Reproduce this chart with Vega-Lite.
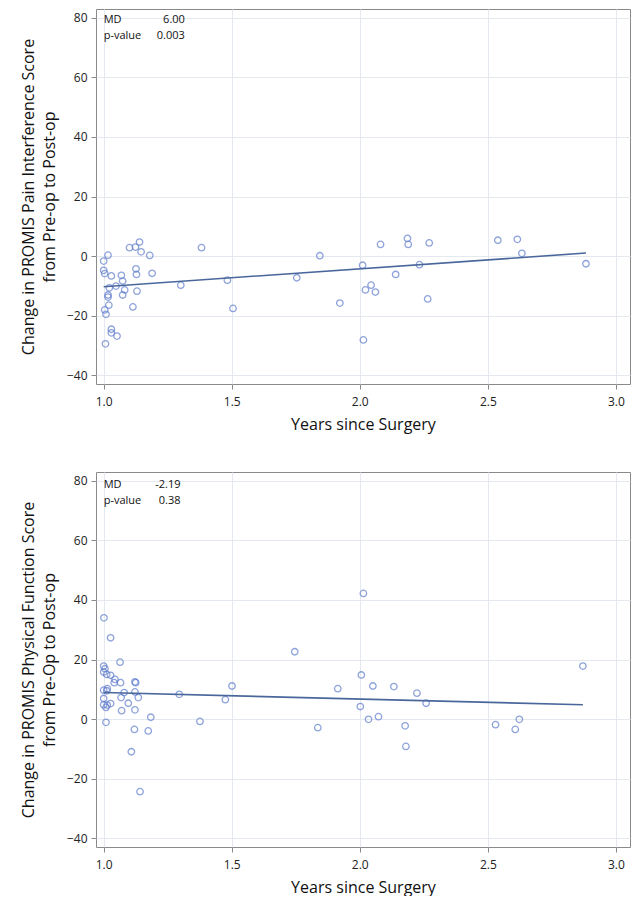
{
  "$schema": "https://vega.github.io/schema/vega-lite/v6.json",
  "padding": {"left": 19, "top": 8, "right": 8, "bottom": 0},
  "background": "white",
  "spacing": 38,
  "config": {
    "font": "Open Sans",
    "view": {"stroke": "#8a8a8a", "strokeWidth": 1},
    "axis": {
      "labelFontSize": 12, "labelColor": "#222", "titleFontSize": 16, "titleFontWeight": "normal",
      "titleColor": "#111", "tickColor": "#8a8a8a", "tickSize": 5, "domain": false,
      "gridColor": "#e4e9ef", "gridWidth": 1, "labelPadding": 4
    }
  },
  "datasets": {
    "pain": [
      {"years":1.140,"change":4.7},{"years":1.101,"change":2.8},{"years":1.124,"change":3.0},{"years":1.146,"change":1.4},
      {"years":1.180,"change":0.2},{"years":1.017,"change":0.3},{"years":1.0,"change":-1.7},{"years":1.0,"change":-4.8},
      {"years":1.004,"change":-5.9},{"years":1.030,"change":-6.7},{"years":1.069,"change":-6.5},{"years":1.126,"change":-4.3},
      {"years":1.128,"change":-6.2},{"years":1.189,"change":-5.8},{"years":1.074,"change":-8.4},{"years":1.048,"change":-10.1},
      {"years":1.022,"change":-10.7},{"years":1.082,"change":-11.4},{"years":1.130,"change":-11.8},{"years":1.017,"change":-13.1},
      {"years":1.017,"change":-13.8},{"years":1.074,"change":-13.1},{"years":1.020,"change":-16.5},{"years":1.114,"change":-17.1},
      {"years":1.004,"change":-18.1},{"years":1.009,"change":-19.6},{"years":1.030,"change":-24.6},{"years":1.030,"change":-25.8},
      {"years":1.052,"change":-26.9},{"years":1.007,"change":-29.5},{"years":1.301,"change":-9.8},{"years":1.382,"change":2.8},
      {"years":1.483,"change":-8.1},{"years":1.505,"change":-17.6},{"years":1.844,"change":0.1},{"years":1.754,"change":-7.3},
      {"years":1.922,"change":-15.8},{"years":2.011,"change":-3.1},{"years":2.022,"change":-11.4},{"years":2.044,"change":-9.8},
      {"years":2.061,"change":-12.1},{"years":2.014,"change":-28.2},{"years":2.081,"change":3.9},{"years":2.140,"change":-6.2},
      {"years":2.186,"change":5.9},{"years":2.189,"change":3.9},{"years":2.233,"change":-2.9},{"years":2.271,"change":4.4},
      {"years":2.265,"change":-14.4},{"years":2.539,"change":5.3},{"years":2.615,"change":5.6},{"years":2.633,"change":0.9},
      {"years":2.883,"change":-2.6}
    ],
    "painFit": [{"years":1.0,"change":-10.3},{"years":2.883,"change":1.0}],
    "painStat": [{"stat":"MD","value":"6.00"},{"stat":"p-value","value":"0.003"}],
    "pf": [
      {"years":1.001,"change":34.0},{"years":1.027,"change":27.3},{"years":1.064,"change":19.1},{"years":1.0,"change":17.8},
      {"years":1.005,"change":16.9},{"years":1.0,"change":15.8},{"years":1.012,"change":15.0},{"years":1.027,"change":14.7},
      {"years":1.044,"change":13.3},{"years":1.041,"change":12.2},{"years":1.066,"change":12.2},{"years":1.122,"change":12.5},
      {"years":1.125,"change":12.2},{"years":1.0,"change":9.7},{"years":1.014,"change":10.2},{"years":1.012,"change":9.5},
      {"years":1.080,"change":8.9},{"years":1.122,"change":9.1},{"years":1.0,"change":6.9},{"years":1.068,"change":7.2},
      {"years":1.135,"change":7.2},{"years":1.096,"change":5.3},{"years":1.0,"change":4.8},{"years":1.014,"change":4.7},
      {"years":1.027,"change":5.2},{"years":1.009,"change":3.9},{"years":1.070,"change":2.8},{"years":1.122,"change":3.1},
      {"years":1.184,"change":0.6},{"years":1.009,"change":-1.1},{"years":1.120,"change":-3.5},{"years":1.174,"change":-4.0},
      {"years":1.108,"change":-11.0},{"years":1.142,"change":-24.4},{"years":1.295,"change":8.3},{"years":1.376,"change":-0.8},
      {"years":1.475,"change":6.5},{"years":1.501,"change":11.1},{"years":2.014,"change":42.2},{"years":1.746,"change":22.6},
      {"years":2.871,"change":17.8},{"years":2.006,"change":14.8},{"years":1.914,"change":10.2},{"years":2.051,"change":11.1},
      {"years":2.133,"change":10.9},{"years":2.223,"change":8.7},{"years":2.259,"change":5.3},{"years":2.002,"change":4.2},
      {"years":1.836,"change":-2.9},{"years":2.034,"change":-0.1},{"years":2.073,"change":0.8},{"years":2.177,"change":-2.3},
      {"years":2.180,"change":-9.2},{"years":2.530,"change":-1.9},{"years":2.607,"change":-3.5},{"years":2.623,"change":-0.1}
    ],
    "pfFit": [{"years":1.0,"change":8.9},{"years":2.871,"change":4.8}],
    "pfStat": [{"stat":"MD","value":"-2.19"},{"stat":"p-value","value":"0.38"}]
  },
  "vconcat": [
    {
      "width": 534, "height": 375,
      "encoding": {
        "x": {"type": "quantitative", "scale": {"domain": [0.97, 3.055], "nice": false, "zero": false},
              "axis": {"values": [1, 1.5, 2, 2.5, 3], "format": ".1f", "title": "Years since Surgery", "labelPadding": 7, "titlePadding": 9}},
        "y": {"type": "quantitative", "scale": {"domain": [-43, 83], "nice": false, "zero": false},
              "axis": {"values": [-40, -20, 0, 20, 40, 60, 80], "title": ["Change in PROMIS Pain Interference Score", "from Pre-op to Post-op"], "titlePadding": 9, "titleLineHeight": 21}}
      },
      "layer": [
        {"data": {"name": "pain"}, "mark": {"type": "point", "shape": "circle", "filled": false, "size": 42, "strokeWidth": 1.3, "color": "#5f7dcc"},
         "encoding": {"x": {"field": "years"}, "y": {"field": "change"}}},
        {"data": {"name": "painFit"}, "mark": {"type": "line", "color": "#4a679c", "strokeWidth": 1.6},
         "encoding": {"x": {"field": "years"}, "y": {"field": "change"}}},
        {"data": {"name": "painStat"}, "transform": [{"filter": "datum.stat == 'MD'"}],
         "mark": {"type": "text", "align": "left", "baseline": "middle", "fontSize": 11, "color": "#111"},
         "encoding": {"x": {"datum": 1.0}, "y": {"datum": 79.3}, "text": {"field": "stat"}}},
        {"data": {"name": "painStat"}, "transform": [{"filter": "datum.stat == 'p-value'"}],
         "mark": {"type": "text", "align": "left", "baseline": "middle", "fontSize": 11, "color": "#111"},
         "encoding": {"x": {"datum": 1.0}, "y": {"datum": 74}, "text": {"field": "stat"}}},
        {"data": {"name": "painStat"}, "transform": [{"filter": "datum.stat == 'MD'"}],
         "mark": {"type": "text", "align": "right", "baseline": "middle", "fontSize": 11, "color": "#111"},
         "encoding": {"x": {"datum": 1.317}, "y": {"datum": 79.3}, "text": {"field": "value"}}},
        {"data": {"name": "painStat"}, "transform": [{"filter": "datum.stat == 'p-value'"}],
         "mark": {"type": "text", "align": "right", "baseline": "middle", "fontSize": 11, "color": "#111"},
         "encoding": {"x": {"datum": 1.317}, "y": {"datum": 74}, "text": {"field": "value"}}}
      ]
    },
    {
      "width": 534, "height": 375,
      "encoding": {
        "x": {"type": "quantitative", "scale": {"domain": [0.97, 3.055], "nice": false, "zero": false},
              "axis": {"values": [1, 1.5, 2, 2.5, 3], "format": ".1f", "title": "Years since Surgery", "labelPadding": 7, "titlePadding": 9}},
        "y": {"type": "quantitative", "scale": {"domain": [-43, 83], "nice": false, "zero": false},
              "axis": {"values": [-40, -20, 0, 20, 40, 60, 80], "title": ["Change in PROMIS Physical Function Score", "from Pre-Op to Post-op"], "titlePadding": 9, "titleLineHeight": 21}}
      },
      "layer": [
        {"data": {"name": "pf"}, "mark": {"type": "point", "shape": "circle", "filled": false, "size": 42, "strokeWidth": 1.3, "color": "#5f7dcc"},
         "encoding": {"x": {"field": "years"}, "y": {"field": "change"}}},
        {"data": {"name": "pfFit"}, "mark": {"type": "line", "color": "#4a679c", "strokeWidth": 1.6},
         "encoding": {"x": {"field": "years"}, "y": {"field": "change"}}},
        {"data": {"name": "pfStat"}, "transform": [{"filter": "datum.stat == 'MD'"}],
         "mark": {"type": "text", "align": "left", "baseline": "middle", "fontSize": 11, "color": "#111"},
         "encoding": {"x": {"datum": 1.0}, "y": {"datum": 78.6}, "text": {"field": "stat"}}},
        {"data": {"name": "pfStat"}, "transform": [{"filter": "datum.stat == 'p-value'"}],
         "mark": {"type": "text", "align": "left", "baseline": "middle", "fontSize": 11, "color": "#111"},
         "encoding": {"x": {"datum": 1.0}, "y": {"datum": 73.3}, "text": {"field": "stat"}}},
        {"data": {"name": "pfStat"}, "transform": [{"filter": "datum.stat == 'MD'"}],
         "mark": {"type": "text", "align": "right", "baseline": "middle", "fontSize": 11, "color": "#111"},
         "encoding": {"x": {"datum": 1.30}, "y": {"datum": 78.6}, "text": {"field": "value"}}},
        {"data": {"name": "pfStat"}, "transform": [{"filter": "datum.stat == 'p-value'"}],
         "mark": {"type": "text", "align": "right", "baseline": "middle", "fontSize": 11, "color": "#111"},
         "encoding": {"x": {"datum": 1.30}, "y": {"datum": 73.3}, "text": {"field": "value"}}}
      ]
    }
  ]
}
